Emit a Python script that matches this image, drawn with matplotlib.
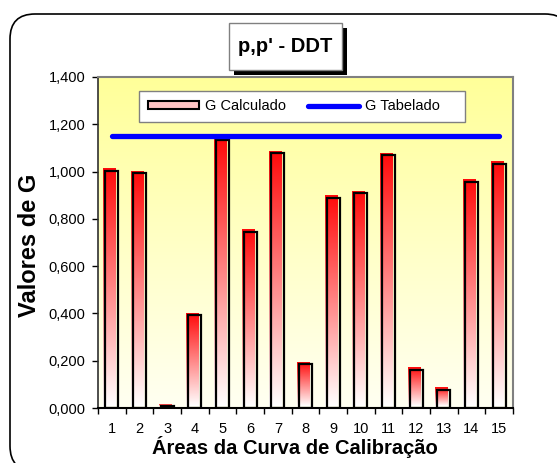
import numpy as np
import matplotlib
matplotlib.use("Agg")
import matplotlib.pyplot as plt
from matplotlib.colors import LinearSegmentedColormap
from matplotlib.patches import FancyBboxPatch, Rectangle, Patch
from matplotlib.lines import Line2D
from matplotlib.transforms import ScaledTranslation
from matplotlib.ticker import FuncFormatter, FixedLocator

# ---- data ----
categories = ["1", "2", "3", "4", "5", "6", "7", "8", "9", "10", "11", "12", "13", "14", "15"]
g_calculado = [1.003, 0.993, 0.008, 0.392, 1.134, 0.746, 1.077, 0.186, 0.890, 0.908,
               1.069, 0.162, 0.077, 0.957, 1.033]
g_tabelado = [1.152, 1.152, 1.152, 1.152, 1.152, 1.152, 1.152, 1.152, 1.152, 1.152,
              1.152, 1.152, 1.152, 1.152, 1.152]
y_ticks = [0.0, 0.2, 0.4, 0.6, 0.8, 1.0, 1.2, 1.4]
title = "p,p' - DDT"
xlabel = "Áreas da Curva de Calibração"
ylabel = "Valores de G"
legend_labels = ["G Calculado", "G Tabelado"]

plt.rcParams['font.family'] = ['Liberation Sans', 'DejaVu Sans']

W, H = 557, 463
fig = plt.figure(figsize=(W / 100, H / 100), dpi=100)
fig.patch.set_facecolor("white")

# outer rounded frame
frame = FancyBboxPatch((0.10, -0.08), 5.60, 4.57,
                       boxstyle="round,pad=0,rounding_size=0.25",
                       transform=fig.dpi_scale_trans, facecolor="white",
                       edgecolor="black", lw=1.2, zorder=0)
fig.add_artist(frame)

ax = fig.add_axes([98 / W, 1 - 408 / H, (513 - 98) / W, (408 - 77) / H])
ax.set_zorder(1)

# yellow gradient background
bg_cmap = LinearSegmentedColormap.from_list("bg", ["#FFFFF2", "#FFFF99"])
ax.imshow(np.linspace(0, 1, 256).reshape(-1, 1), cmap=bg_cmap, origin="lower",
          extent=[0, 1, 0, 1], transform=ax.transAxes, aspect="auto", zorder=0)

x = np.arange(len(categories))
width = 0.46
bar_cmap = LinearSegmentedColormap.from_list("bar", ["#FFFFFF", "#FF0A0A"])
offset = ax.transData + ScaledTranslation(-2 / 100, 2 / 100, fig.dpi_scale_trans)
for xi, v in zip(x, g_calculado):
    im = ax.imshow(np.linspace(0, 1, 256).reshape(-1, 1), cmap=bar_cmap, origin="lower",
                   extent=[xi - width / 2, xi + width / 2, 0, v], aspect="auto", zorder=2)
    im.set_transform(offset)

ax.bar(x, g_calculado, width=width, facecolor="none", edgecolor="black", lw=1.6, zorder=3)
ax.plot(x, g_tabelado, color="#0000FF", lw=3.8, solid_capstyle="round", zorder=4)

ax.set_xlim(-0.5, len(categories) - 0.5)
ax.set_ylim(0, 1.4)
ax.set_yticks(y_ticks)
ax.yaxis.set_major_formatter(FuncFormatter(lambda v, p: f"{v:.3f}".replace(".", ",")))
ax.set_xticks(x)
ax.set_xticklabels(categories)
ax.xaxis.set_minor_locator(FixedLocator(np.arange(-0.5, len(categories), 1.0)))
ax.tick_params(axis="x", which="major", length=0, pad=10, labelsize=10.5)
ax.tick_params(axis="x", which="minor", length=4, width=1, direction="out")
ax.tick_params(axis="y", length=4, width=1, direction="out", pad=5, labelsize=10.5)

for s in ["top", "right"]:
    ax.spines[s].set_color("#808080")
    ax.spines[s].set_linewidth(1.5)
ax.spines["left"].set_color("#303030")
ax.spines["left"].set_linewidth(1.2)
ax.spines["bottom"].set_color("black")
ax.spines["bottom"].set_linewidth(1.5)

# axis labels
fig.text(295 / W, 1 - 447 / H, xlabel, ha="center", va="center",
         fontsize=14.5, fontweight="bold")
fig.text(30 / W, 1 - 245 / H, ylabel, ha="center", va="center",
         fontsize=17, fontweight="bold", rotation=90)

# title box with shadow
fig.add_artist(Rectangle((2.34, 463 / 100 - 0.75), 1.13, 0.47,
                         transform=fig.dpi_scale_trans, facecolor="black",
                         edgecolor="none", zorder=5))
fig.add_artist(Rectangle((2.29, 463 / 100 - 0.70), 1.13, 0.47,
                         transform=fig.dpi_scale_trans, facecolor="white",
                         edgecolor="#808080", lw=1, zorder=6))
fig.text(2.855 / 5.57, 1 - 46.5 / H, title, ha="center", va="center",
         fontsize=14.5, fontweight="bold", zorder=7)

# legend
handles = [Patch(facecolor="#FFC4C4", edgecolor="black", lw=1.5),
           Line2D([0], [0], color="#0000FF", lw=3.8, solid_capstyle="round")]
leg = fig.legend(handles, [legend_labels[0], legend_labels[1] + "    "],
                 loc="center", bbox_to_anchor=(302 / W, 1 - 106.5 / H),
                 ncol=2, frameon=True, fancybox=False, edgecolor="#808080",
                 framealpha=1, fontsize=10.5, handlelength=3.5, handleheight=0.45,
                 handletextpad=0.4, columnspacing=1.5, borderpad=0.6,
                 borderaxespad=0)
leg.get_frame().set_linewidth(1)
leg.set_zorder(8)

fig.savefig("out.png", dpi=100)
